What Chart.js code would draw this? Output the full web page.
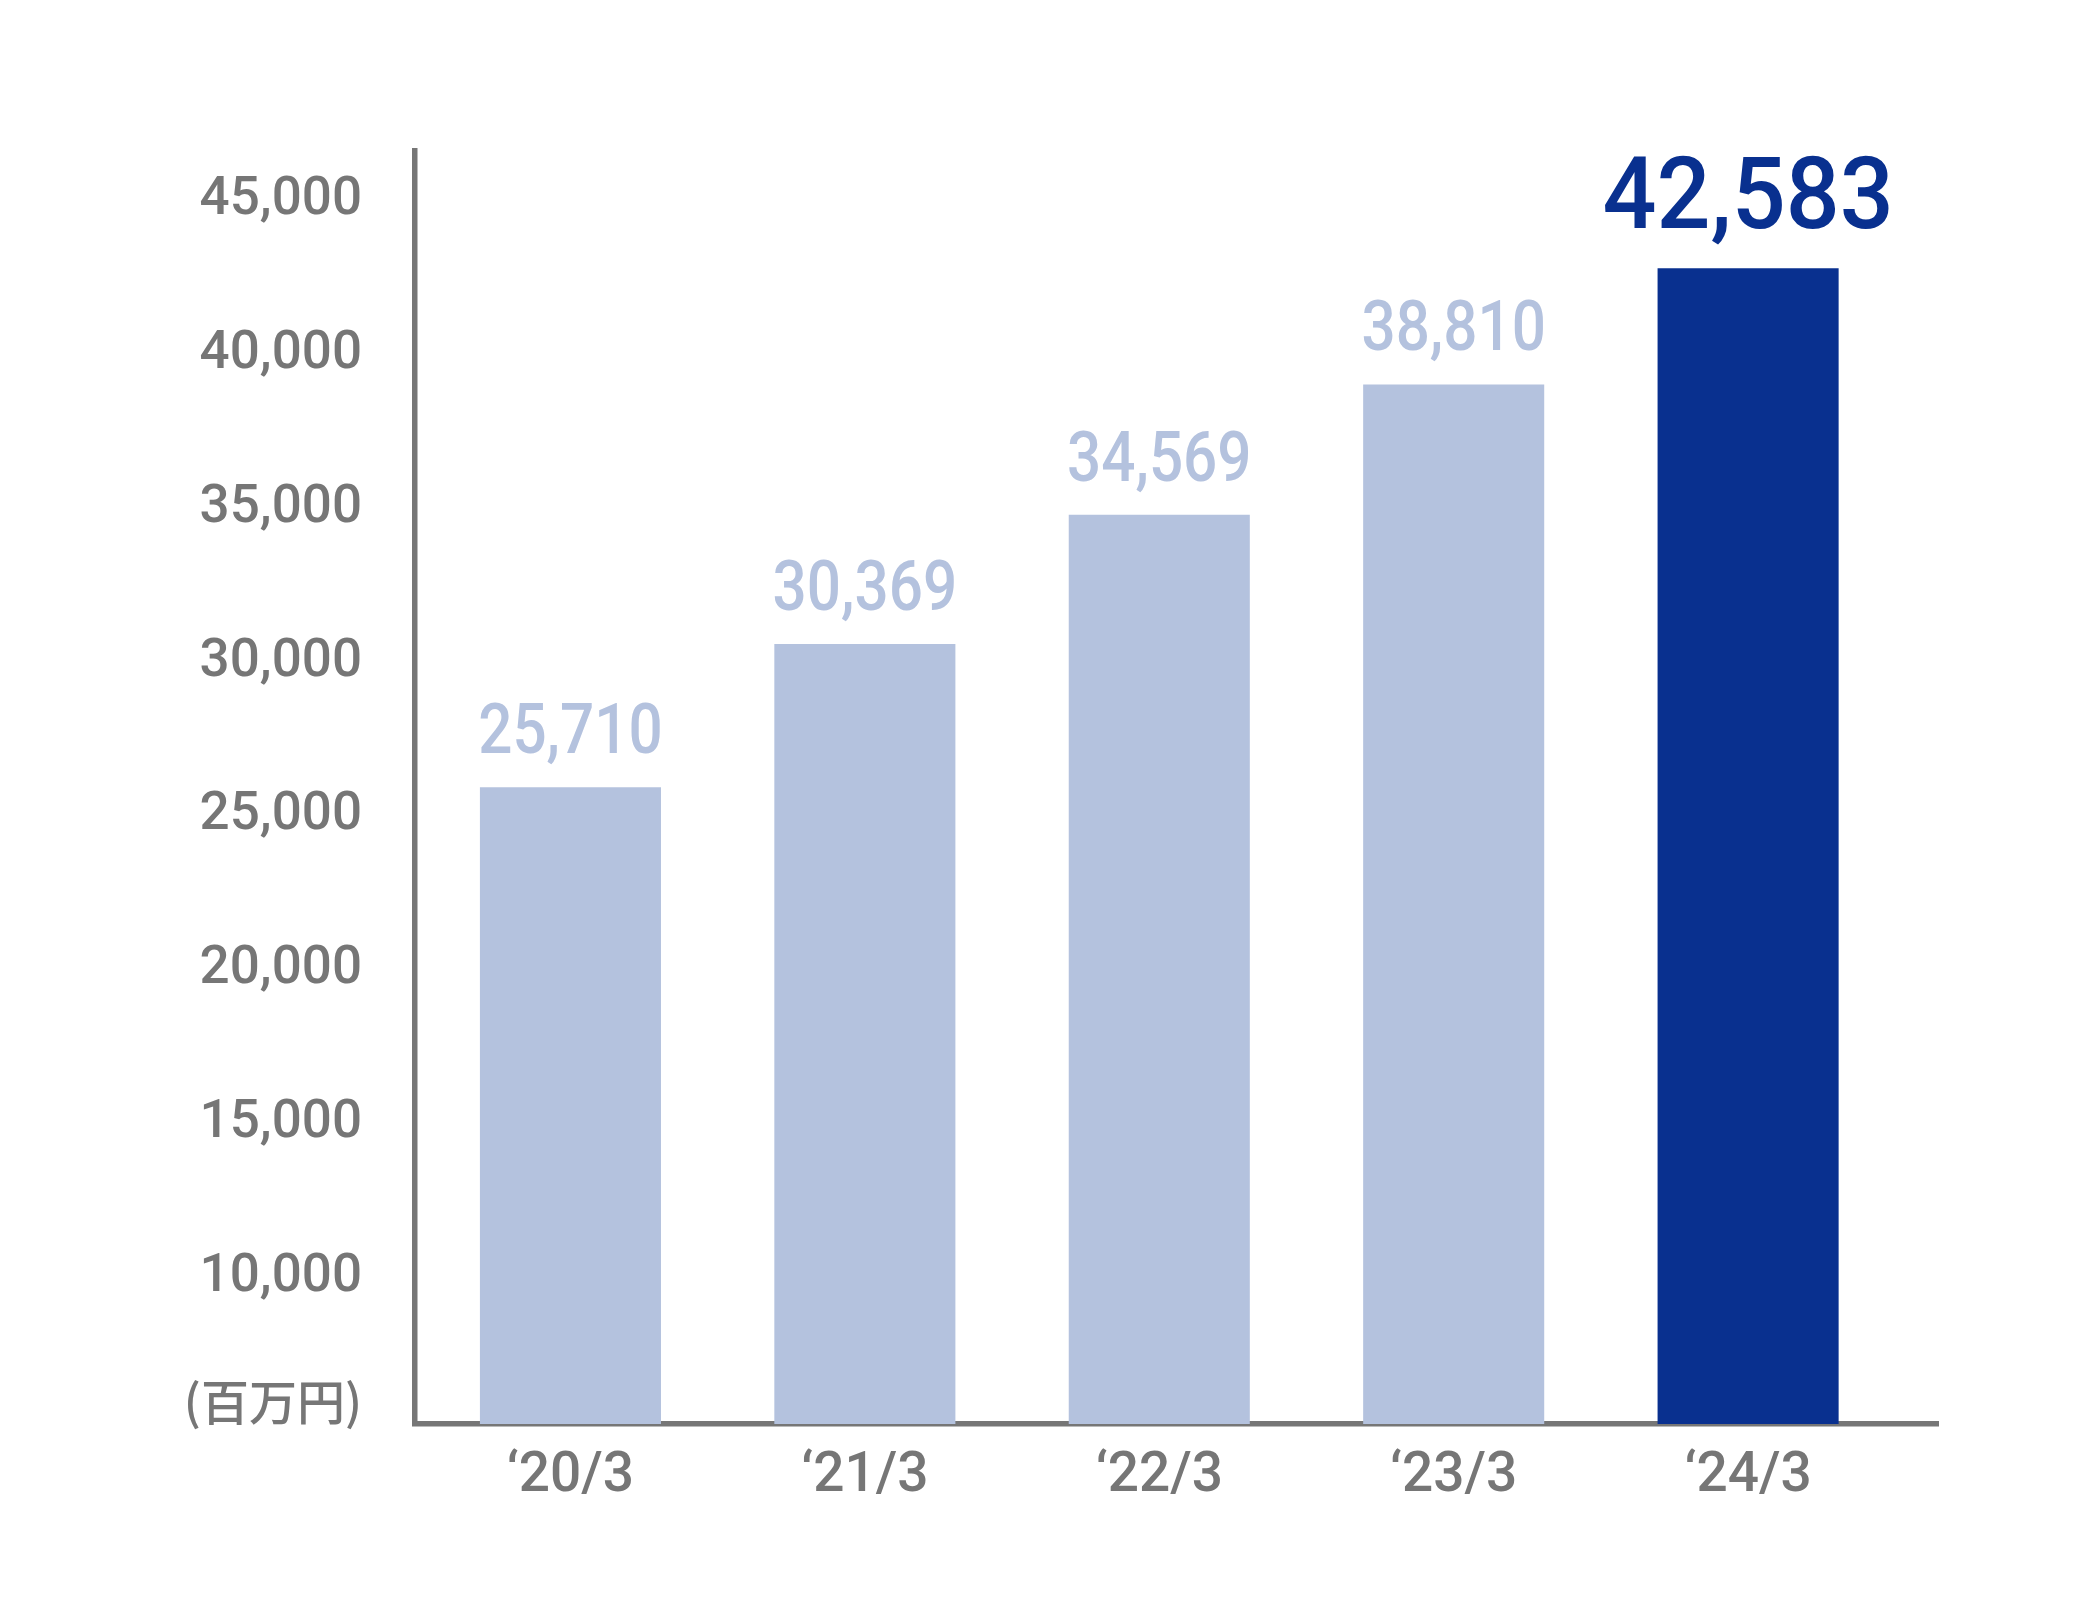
<!DOCTYPE html>
<html lang="ja">
<head>
<meta charset="utf-8">
<title>売上高の推移</title>
<script src="https://cdn.jsdelivr.net/npm/chart.js@4.4.1/dist/chart.umd.min.js"></script>
<style>
  html, body { margin: 0; padding: 0; background: #fff; }
  #wrap { width: 2100px; height: 1606px; position: relative; }
</style>
</head>
<body>
<div id="wrap"><canvas id="chart"></canvas></div>
<script>
  // values
  var periods = ['\u201820/3', '\u201821/3', '\u201822/3', '\u201823/3', '\u201824/3'];
  var sales = [25710, 30369, 34569, 38810, 42583];
  var highlight = [false, false, false, false, true];
  var yTicks = [5000, 10000, 15000, 20000, 25000, 30000, 35000, 40000, 45000];
  var unitLabel = '(百万円)';

  var GRAY = '#767676';
  var LIGHT = '#b4c2de';
  var DARK = '#09308f';

  var labelStyle = {
    normal: { size: 70, weight: 500, color: LIGHT, gap: 34, squeeze: 0.86 },
    strong: { size: 100, weight: 500, color: DARK, gap: 40, squeeze: 0.95 }
  };

  var barLabels = {
    id: 'barLabels',
    afterDatasetsDraw: function (chart) {
      var ctx = chart.ctx;
      var meta = chart.getDatasetMeta(0);
      meta.data.forEach(function (bar, i) {
        var s = highlight[i] ? labelStyle.strong : labelStyle.normal;
        ctx.save();
        ctx.font = s.weight + ' ' + s.size + 'px Roboto, "Noto Sans", sans-serif';
        ctx.fillStyle = s.color;
        ctx.textAlign = 'center';
        ctx.textBaseline = 'alphabetic';
        ctx.translate(bar.x, bar.y - s.gap);
        ctx.scale(s.squeeze, 1);
        ctx.fillText(sales[i].toLocaleString('en-US'), 0, 0);
        ctx.restore();
      });
    }
  };

  new Chart(document.getElementById('chart'), {
    type: 'bar',
    data: {
      datasets: [{
        data: sales.map(function (v, i) { return { x: i, y: v }; }),
        backgroundColor: highlight.map(function (h) { return h ? DARK : LIGHT; }),
        borderWidth: 0,
        categoryPercentage: 1,
        barPercentage: 0.615
      }]
    },
    options: {
      responsive: true,
      maintainAspectRatio: false,
      devicePixelRatio: 1,
      animation: false,
      layout: { padding: { top: 151, right: 162, left: 0, bottom: 0 } },
      plugins: { legend: { display: false }, tooltip: { enabled: false } },
      scales: {
        x: {
          type: 'linear',
          offset: false,
          min: -0.528,
          max: 4.645,
          afterBuildTicks: function (scale) {
            scale.ticks = periods.map(function (_, i) { return { value: i }; });
          },
          afterFit: function (scale) { scale.height = 182; },
          grid: { display: false, drawTicks: false, offset: false },
          border: { display: true, color: GRAY, width: 5.5 },
          ticks: {
            autoSkip: false,
            maxRotation: 0,
            padding: 20,
            color: GRAY,
            font: { family: 'Roboto', size: 55, weight: 500 },
            callback: function (v) { return periods[v]; }
          }
        },
        y: {
          min: 5000,
          max: 46400,
          afterBuildTicks: function (scale) {
            scale.ticks = yTicks.map(function (v) { return { value: v }; });
          },
          afterFit: function (scale) { scale.width = 415; },
          grid: { display: false, drawTicks: false },
          border: { display: true, color: GRAY, width: 5.5 },
          ticks: {
            padding: 53,
            labelOffset: 7,
            color: GRAY,
            font: function (c) {
              if (c.tick && c.tick.value === yTicks[0]) {
                return { family: '"Noto Sans CJK JP", "Noto Sans", sans-serif', size: 48, weight: 500 };
              }
              return { family: 'Roboto', size: 53, weight: 500 };
            },
            callback: function (v) {
              if (v === yTicks[0]) { return [unitLabel, '']; }
              return v.toLocaleString('en-US');
            }
          }
        }
      }
    },
    plugins: [barLabels]
  });
</script>
</body>
</html>
